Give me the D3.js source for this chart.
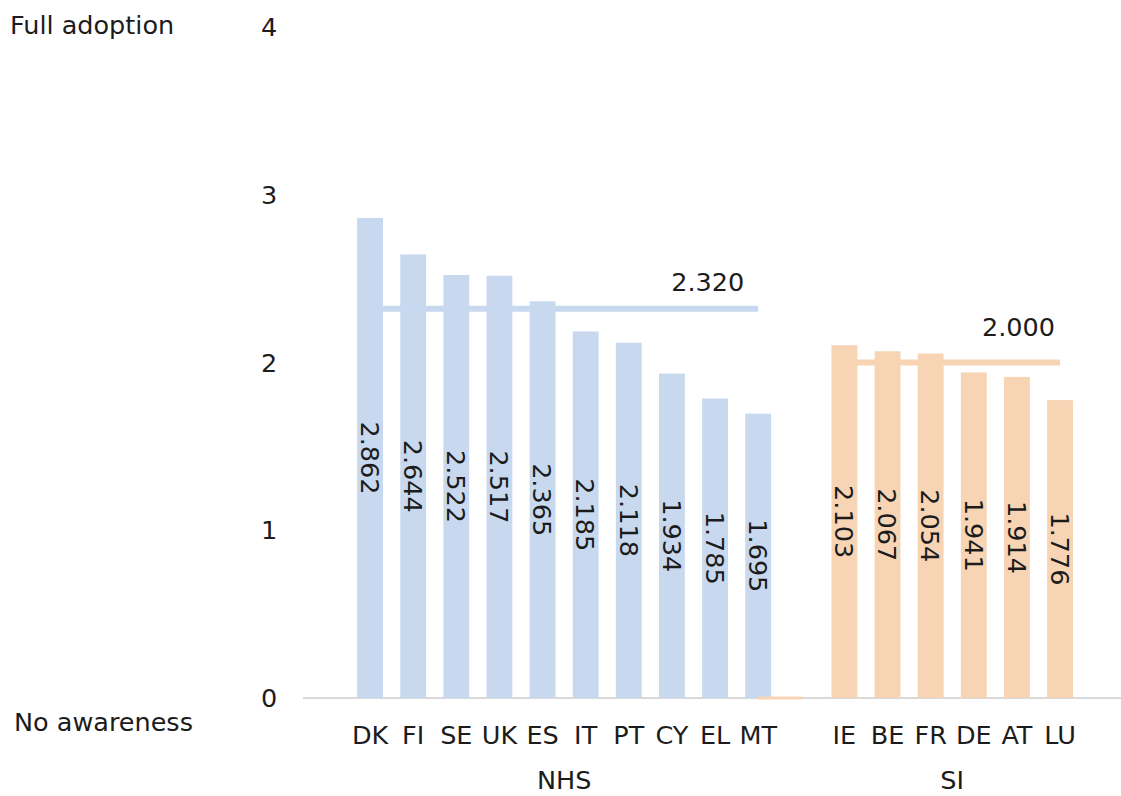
<!DOCTYPE html>
<html>
<head>
<meta charset="utf-8">
<script src="https://cdn.jsdelivr.net/npm/d3@7"></script>
<style>
  html, body { margin: 0; padding: 0; background: #fff; }
  svg { display: block; font-family: "DejaVu Sans", Verdana, sans-serif; }
</style>
</head>
<body>
<svg id="chart" width="1121" height="796"></svg>
<script>
// Adoption scores by country, grouped by health-system type
const nhsCountries = ["DK", "FI", "SE", "UK", "ES", "IT", "PT", "CY", "EL", "MT"];
const nhsValues    = [2.862, 2.644, 2.522, 2.517, 2.365, 2.185, 2.118, 1.934, 1.785, 1.695];
const siCountries  = ["IE", "BE", "FR", "DE", "AT", "LU"];
const siValues     = [2.103, 2.067, 2.054, 1.941, 1.914, 1.776];
const nhsAverage = 2.320;
const siAverage  = 2.000;
const groupNames = ["NHS", "SI"];
const yTicks = [0, 1, 2, 3, 4];
const yEndLabels = ["No awareness", "Full adoption"];

const gap = "_gap";
const slots = [...nhsCountries, gap, ...siCountries];

const svg = d3.select("#chart");
const blue = "#c8d9ef";
const orange = "#f7d4b4";
const ink = "#1c1c1c";
const fs = 25.5;

const x = d3.scaleBand().domain(slots).range([348.5, 1081.6])
  .paddingInner(0.4).paddingOuter(0.2);
const y = d3.scaleLinear().domain([0, 4]).range([698, 27]);
const cx = d => x(d) + x.bandwidth() / 2;

// baseline
svg.append("line")
  .attr("x1", 303).attr("x2", 1121)
  .attr("y1", y(0)).attr("y2", y(0))
  .attr("stroke", "#d9d9d9").attr("stroke-width", 2);

// y tick labels
svg.append("g").selectAll("text").data(yTicks).join("text")
  .attr("x", 269).attr("y", d => y(d))
  .attr("dy", "0.36em")
  .attr("text-anchor", "middle")
  .attr("font-size", fs).attr("fill", ink)
  .text(d => d);

svg.append("text").attr("x", 10).attr("y", y(4) - 2).attr("dy", "0.36em")
  .attr("font-size", fs).attr("fill", ink).text(yEndLabels[1]);
svg.append("text").attr("x", 14).attr("y", 722).attr("dy", "0.36em")
  .attr("font-size", fs).attr("fill", ink).text(yEndLabels[0]);

const nhs = nhsCountries.map((c, i) => ({ c, v: nhsValues[i], color: blue }));
const si = siCountries.map((c, i) => ({ c, v: siValues[i], color: orange }));
const all = [...nhs, ...si];

// bars
svg.append("g").selectAll("rect").data(all).join("rect")
  .attr("x", d => x(d.c)).attr("width", x.bandwidth())
  .attr("y", d => y(d.v)).attr("height", d => y(0) - y(d.v))
  .attr("fill", d => d.color);

// average lines
const line = d3.line().x(d => cx(d[0])).y(d => y(d[1]));
svg.append("path")
  .attr("d", line([[nhsCountries[0], nhsAverage], [nhsCountries[nhsCountries.length - 1], nhsAverage]]))
  .attr("stroke", blue).attr("stroke-width", 6).attr("fill", "none");
svg.append("path")
  .attr("d", line([[siCountries[0], siAverage], [siCountries[siCountries.length - 1], siAverage]]))
  .attr("stroke", orange).attr("stroke-width", 6).attr("fill", "none");
// SI series running along zero through the empty slot
svg.append("path")
  .attr("d", line([[nhsCountries[nhsCountries.length - 1], 0], [gap, 0]]))
  .attr("stroke", orange).attr("stroke-width", 3).attr("fill", "none");

// average labels
svg.append("text")
  .attr("x", cx(nhsCountries[nhsCountries.length - 1]) - 14).attr("y", y(nhsAverage) - 27)
  .attr("dy", "0.36em").attr("text-anchor", "end")
  .attr("font-size", fs).attr("fill", ink)
  .text(nhsAverage.toFixed(3));
svg.append("text")
  .attr("x", cx(siCountries[siCountries.length - 1]) - 5).attr("y", y(siAverage) - 36)
  .attr("dy", "0.36em").attr("text-anchor", "end")
  .attr("font-size", fs).attr("fill", ink)
  .text(siAverage.toFixed(3));

// value labels, rotated, centred in each bar
svg.append("g").selectAll("text").data(all).join("text")
  .attr("transform", d => `translate(${cx(d.c)},${(y(d.v) + y(0)) / 2}) rotate(90)`)
  .attr("text-anchor", "middle").attr("dy", "0.36em")
  .attr("font-size", fs).attr("fill", ink)
  .text(d => d.v.toFixed(3));

// category labels
svg.append("g").selectAll("text").data(all).join("text")
  .attr("x", d => cx(d.c)).attr("y", 735).attr("dy", "0.36em")
  .attr("text-anchor", "middle").attr("font-size", fs).attr("fill", ink)
  .text(d => d.c);

// group labels
const groupCenters = [
  (cx(nhsCountries[0]) + cx(nhsCountries[nhsCountries.length - 1])) / 2,
  (cx(siCountries[0]) + cx(siCountries[siCountries.length - 1])) / 2
];
svg.append("g").selectAll("text").data(groupNames).join("text")
  .attr("x", (d, i) => groupCenters[i]).attr("y", 780).attr("dy", "0.36em")
  .attr("text-anchor", "middle").attr("font-size", fs).attr("fill", ink)
  .text(d => d);
</script>
</body>
</html>
